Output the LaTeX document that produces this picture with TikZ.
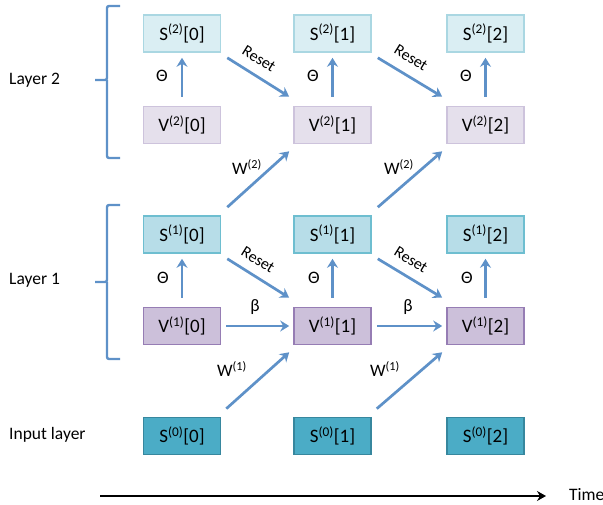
\documentclass[tikz,border=0pt]{standalone}
\usepackage{fontspec}
\setmainfont{Carlito}
\usetikzlibrary{arrows.meta,calc}
\definecolor{arrblue}{RGB}{94,145,200}
\definecolor{stwofill}{HTML}{DAEEF3}
\definecolor{stwoline}{RGB}{170,215,226}
\definecolor{vtwofill}{HTML}{E5E0EC}
\definecolor{vtwoline}{RGB}{205,195,220}
\definecolor{sonefill}{HTML}{B7DDE8}
\definecolor{soneline}{RGB}{110,190,208}
\definecolor{vonefill}{HTML}{CCC0DA}
\definecolor{voneline}{RGB}{150,125,180}
\definecolor{szerofill}{HTML}{4BACC6}
\definecolor{szeroline}{RGB}{55,135,158}
\tikzset{
  box/.style={minimum width=77pt,minimum height=37pt,inner sep=0pt,line width=1.6pt,font=\fontsize{19}{22}\selectfont},
  stwo/.style={box,fill=stwofill,draw=stwoline},
  vtwo/.style={box,fill=vtwofill,draw=vtwoline},
  sone/.style={box,fill=sonefill,draw=soneline},
  vone/.style={box,fill=vonefill,draw=voneline},
  szero/.style={box,fill=szerofill,draw=szeroline},
  arr/.style={draw=arrblue,line width=2.7pt,-{Stealth[length=9pt,width=11pt,inset=3pt]}},
  lbl/.style={font=\fontsize{17.5}{20}\selectfont,inner sep=0pt},
  rlbl/.style={font=\fontsize{16}{19}\selectfont,inner sep=0pt,rotate=-32},
  brace/.style={draw=arrblue,line width=2.4pt,rounded corners=2pt},
}
\newcommand{\sx}[2]{S\textsuperscript{(#1)}[#2]}
\newcommand{\vx}[2]{V\textsuperscript{(#1)}[#2]}
\begin{document}
\begin{tikzpicture}[x=1pt,y=-1pt]
\useasboundingbox (0,0) rectangle (603,505);
% boxes
\foreach \c/\xx in {0/182,1/332.5,2/485.5}{
  \node[stwo] (s2\c) at (\xx,33.5) {\sx{2}{\c}};
  \node[vtwo] (v2\c) at (\xx,125) {\vx{2}{\c}};
  \node[sone] (s1\c) at (\xx,234.5) {\sx{1}{\c}};
  \node[vone] (v1\c) at (\xx,326) {\vx{1}{\c}};
  \node[szero] (s0\c) at (\xx,436) {\sx{0}{\c}};
}
% threshold arrows
\foreach \c in {0,1,2}{
  \draw[arr] ($(v2\c.north)+(0,-9)$) -- ($(s2\c.south)+(0,5)$);
  \draw[arr] ($(v1\c.north)+(0,-9)$) -- ($(s1\c.south)+(0,5)$);
}
\node[lbl] (th20) at (162,76) {Θ};
\node[lbl] (th21) at (313,76) {Θ};
\node[lbl] (th22) at (466,76) {Θ};
\node[lbl] (th10) at (163,278) {Θ};
\node[lbl] (th11) at (314,278) {Θ};
\node[lbl] (th12) at (467,278) {Θ};
% reset, beta and weight arrows
\foreach \a/\b in {0/1,1/2}{
  \draw[arr] ($(s2\a.south east)+(6,5)$) -- ($(v2\b.north west)+(-4,-9)$);
  \draw[arr] ($(s1\a.south east)+(6,5)$) -- ($(v1\b.north west)+(-4,-9)$);
  \draw[arr] ($(v1\a.east)+(5,0)$) -- ($(v1\b.west)+(-4,0)$);
  \draw[arr] ($(s1\a.north east)+(6,-8)$) -- ($(v2\b.south west)+(-4,7)$);
  \draw[arr] ($(s0\a.north east)+(5,-8)$) -- ($(v1\b.south west)+(-4,7)$);
}
\node[rlbl] (r20) at (259,59) {Reset};
\node[rlbl] (r21) at (411,58) {Reset};
\node[rlbl] (r10) at (258,260) {Reset};
\node[rlbl] (r11) at (411,260) {Reset};
\node[lbl] (b0) at (255,307) {β};
\node[lbl] (b1) at (408,307) {β};
\node[lbl] (w20) at (247,167) {W\textsuperscript{(2)}};
\node[lbl] (w21) at (399,167) {W\textsuperscript{(2)}};
\node[lbl] (w10) at (232,369) {W\textsuperscript{(1)}};
\node[lbl] (w11) at (385,369) {W\textsuperscript{(1)}};
% braces
\draw[brace] (120,6) -- (107,6) -- (107,80) -- (95,80);
\draw[brace] (107,80) -- (107,158) -- (120,158);
\draw[brace] (120,205) -- (107,205) -- (107,282) -- (95,282);
\draw[brace] (107,282) -- (107,359) -- (120,359);
% layer labels
\node[lbl,anchor=west] (l2) at (9,80) {Layer 2};
\node[lbl,anchor=west] (l1) at (9,280) {Layer 1};
\node[lbl,anchor=west] (l0) at (9,435) {Input layer};
% time axis
\coordinate (t0) at (100,496);
\node[lbl,anchor=west] (time) at (569,495) {Time};
\draw[line width=2pt,-{Stealth[length=9pt,width=10pt,inset=3pt]}] (t0) -- ($(time.west)+(-23,1)$);
\end{tikzpicture}
\end{document}
